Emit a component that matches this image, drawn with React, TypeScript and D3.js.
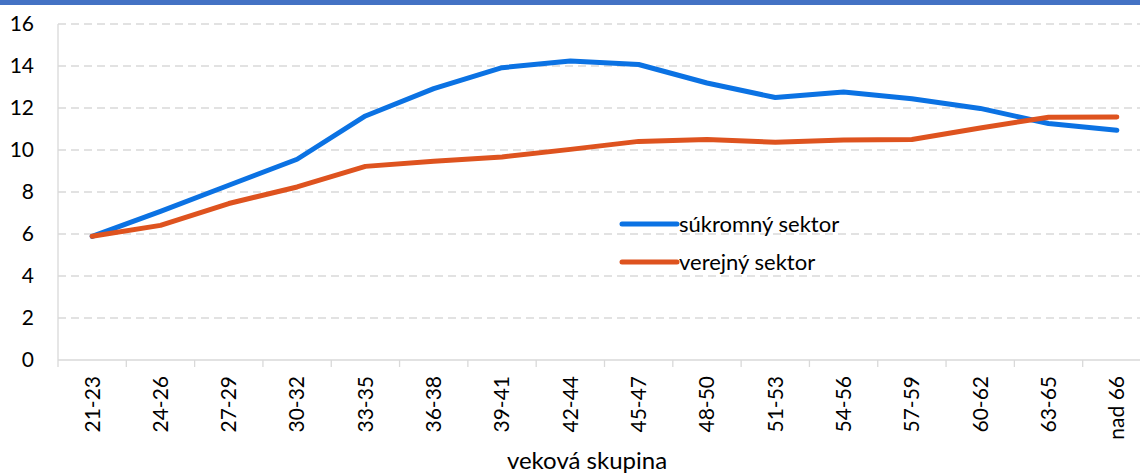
import React from "react";
import * as d3 from "d3";

const categories = ["21-23","24-26","27-29","30-32","33-35","36-38","39-41","42-44","45-47","48-50","51-53","54-56","57-59","60-62","63-65","nad 66"];
const privateSector = [5.89,7.08,8.32,9.56,11.62,12.92,13.92,14.24,14.07,13.19,12.5,12.76,12.44,11.98,11.26,10.94];
const publicSector = [5.89,6.41,7.45,8.24,9.22,9.46,9.67,10.03,10.41,10.5,10.37,10.48,10.5,11.05,11.56,11.57];
const yTicks = [0,2,4,6,8,10,12,14,16];
const seriesNames = ["súkromný sektor","verejný sektor"];
const colors = ["#0B72E3","#DE531F"];

const W = 1140, H = 474;
const FONT = "Lato, 'Liberation Sans', sans-serif";

export default function App() {
  const x = d3.scaleBand<string>().domain(categories).range([58, 1151]).paddingInner(0).paddingOuter(0);
  const y = d3.scaleLinear().domain([0, 16]).range([360, 24]);
  const cx = (c: string) => (x(c) as number) + x.bandwidth() / 2;
  const line = d3.line<number>().x((_, i) => cx(categories[i])).y((v) => y(v));
  const series = [privateSector, publicSector];
  const boundaries = d3.range(categories.length + 1).map((i) => 58 + i * x.bandwidth());

  return (
    <svg width={W} height={H} style={{ position: "absolute", left: 0, top: 0, background: "#fff" }} fontFamily={FONT}>
      <rect x={0} y={0} width={W} height={H} fill="#fff" />
      <rect x={0} y={0} width={W} height={5} fill="#4472C4" />
      {yTicks.filter((t) => t > 0).map((t) => (
        <line key={t} x1={58} x2={W} y1={y(t)} y2={y(t)} stroke="#D9D9D9" strokeWidth={1.3} strokeDasharray="8,5" />
      ))}
      <line x1={58} x2={58} y1={y(16)} y2={y(0)} stroke="#D9D9D9" strokeWidth={1.3} />
      <line x1={58} x2={W} y1={y(0)} y2={y(0)} stroke="#D9D9D9" strokeWidth={1.3} />
      {boundaries.map((bx, i) => (
        <line key={i} x1={bx} x2={bx} y1={y(0)} y2={y(0) + 7} stroke="#D9D9D9" strokeWidth={1.3} />
      ))}
      {yTicks.map((t) => (
        <text key={t} x={34} y={y(t)} dy="0.35em" textAnchor="end" fontSize={21} fill="#000">{t}</text>
      ))}
      {categories.map((c) => (
        <text key={c} transform={`translate(${cx(c)},376) rotate(-90)`} textAnchor="end" dy="0.35em" fontSize={21} fill="#000">{c}</text>
      ))}
      {series.map((s, i) => (
        <path key={i} d={line(s) as string} fill="none" stroke={colors[i]} strokeWidth={5} strokeLinecap="round" strokeLinejoin="round" />
      ))}
      {seriesNames.map((n, i) => (
        <g key={n}>
          <line x1={622} x2={677} y1={224 + i * 38} y2={224 + i * 38} stroke={colors[i]} strokeWidth={5} strokeLinecap="round" />
          <text x={679} y={224 + i * 38} dy="0.35em" fontSize={22} fill="#000">{n}</text>
        </g>
      ))}
      <text x={587} y={469} textAnchor="middle" fontSize={24} fill="#000">veková skupina</text>
    </svg>
  );
}
